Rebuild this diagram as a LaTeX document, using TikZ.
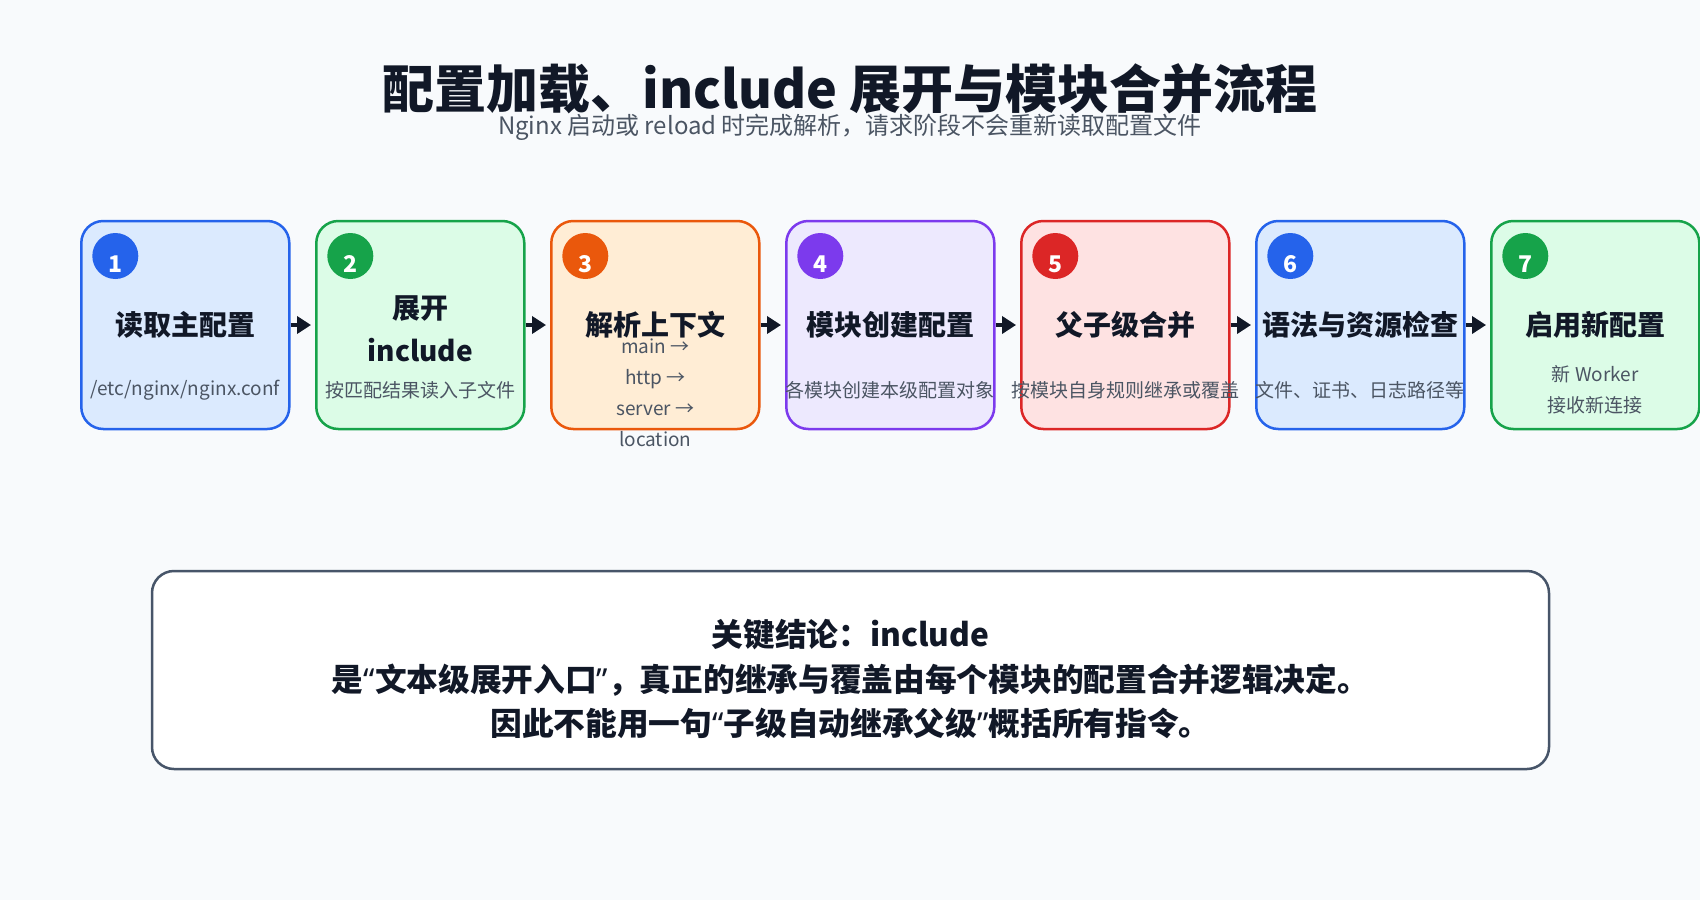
\documentclass[tikz,border=0pt]{standalone}
\usepackage{fontspec}
\setmainfont{Noto Sans CJK SC}
\newfontfamily\quotefont{Noto Sans}
\usetikzlibrary{arrows.meta}
\definecolor{bg}{HTML}{F8FAFC}
\definecolor{ink}{HTML}{111827}
\definecolor{sub}{HTML}{4B5563}
\definecolor{sblue}{HTML}{2563EB}\definecolor{fblue}{HTML}{DBEAFE}
\definecolor{sgreen}{HTML}{16A34A}\definecolor{fgreen}{HTML}{DCFCE7}
\definecolor{sorange}{HTML}{EA580C}\definecolor{forange}{HTML}{FFEDD5}
\definecolor{spurple}{HTML}{7C3AED}\definecolor{fpurple}{HTML}{EDE9FE}
\definecolor{sred}{HTML}{DC2626}\definecolor{fred}{HTML}{FEE2E2}
\definecolor{frame}{HTML}{475569}
\newcommand{\oq}{{\quotefont\bfseries “}}
\newcommand{\cq}{{\quotefont\bfseries ”}}
\tikzset{
  stepbox/.style={draw=#1, line width=2.5pt, rounded corners=22pt, minimum width=208pt, minimum height=208pt, inner sep=0pt},
  badge/.style={circle, fill=#1, minimum size=46pt, inner sep=0pt},
  badgenum/.style={text=white, font=\fontsize{23}{26}\selectfont\bfseries, inner sep=0pt},
  boxtitle/.style={text=ink, font=\fontsize{28}{43}\selectfont\bfseries, align=center, inner sep=0pt},
  boxsub/.style={text=sub, font=\fontsize{19}{31}\selectfont, align=center, inner sep=0pt},
  arr/.style={draw=ink, line width=3.5pt, -{Triangle[length=14pt,width=17pt]}, shorten >=4pt},
}
\begin{document}
\begin{tikzpicture}[x=1pt,y=-1pt]
\path[fill=bg] (0,0) rectangle (1700,900);
\useasboundingbox (0,0) rectangle (1700,900);

\node[text=ink, font=\fontsize{52}{56}\selectfont\bfseries, inner sep=0pt] (title) at (850,89) {配置加载、include 展开与模块合并流程};
\node[text=sub, font=\fontsize{24}{28}\selectfont, inner sep=0pt] (subtitle) at (850,127) {Nginx 启动或 reload 时完成解析，请求阶段不会重新读取配置文件};

% boxes
\node[stepbox=sblue, fill=fblue] (b1) at (185.3,325) {};
\node[stepbox=sgreen, fill=fgreen] (b2) at (420.3,325) {};
\node[stepbox=sorange, fill=forange] (b3) at (655.3,325) {};
\node[stepbox=spurple, fill=fpurple] (b4) at (890.3,325) {};
\node[stepbox=sred, fill=fred] (b5) at (1125.3,325) {};
\node[stepbox=sblue, fill=fblue] (b6) at (1360.3,325) {};
\node[stepbox=sgreen, fill=fgreen] (b7) at (1595.3,325) {};

% badges
\foreach \i/\c/\x in {1/sblue/185.3, 2/sgreen/420.3, 3/sorange/655.3, 4/spurple/890.3, 5/sred/1125.3, 6/sblue/1360.3, 7/sgreen/1595.3}{
  \node[badge=\c] (c\i) at (\x-70,256) {};
  \node[badgenum] (n\i) at (\x-70,264) {\i};
}

% titles
\node[boxtitle] (t1) at (185.3,325) {读取主配置};
\node[boxtitle] (t2) at (420.3,329) {展开\\include};
\node[boxtitle] (t3) at (655.3,325) {解析上下文};
\node[boxtitle] (t4) at (890.3,325) {模块创建配置};
\node[boxtitle] (t5) at (1125.3,325) {父子级合并};
\node[boxtitle] (t6) at (1360.3,325) {语法与资源检查};
\node[boxtitle] (t7) at (1595.3,325) {启用新配置};

% subtexts
\node[boxsub] (s1) at (185.3,390) {/etc/nginx/nginx.conf};
\node[boxsub] (s2) at (420.3,390) {按匹配结果读入子文件};
\node[boxsub] (s3) at (655.3,393) {main →\\http →\\server →\\location};
\node[boxsub] (s4) at (890.3,390) {各模块创建本级配置对象};
\node[boxsub] (s5) at (1125.3,390) {按模块自身规则继承或覆盖};
\node[boxsub] (s6) at (1360.3,390) {文件、证书、日志路径等};
\node[boxsub] (s7) at (1595.3,390) {新 Worker\\接收新连接};

% arrows
\draw[arr] (b1.east) -- (b2.west);
\draw[arr] (b2.east) -- (b3.west);
\draw[arr] (b3.east) -- (b4.west);
\draw[arr] (b4.east) -- (b5.west);
\draw[arr] (b5.east) -- (b6.west);
\draw[arr] (b6.east) -- (b7.west);

% conclusion
\node[draw=frame, fill=white, line width=2.5pt, rounded corners=22pt, minimum width=1397pt, minimum height=198pt, inner sep=0pt] (concl) at (850.5,670) {};
\node[text=ink, font=\fontsize{31.7}{44.5}\selectfont\bfseries, align=center, inner sep=0pt] (conclt) at (850.5,679) {关键结论：include\\是\oq 文本级展开入口\cq ，真正的继承与覆盖由每个模块的配置合并逻辑决定。\\因此不能用一句\oq 子级自动继承父级\cq 概括所有指令。};
\end{tikzpicture}
\end{document}
